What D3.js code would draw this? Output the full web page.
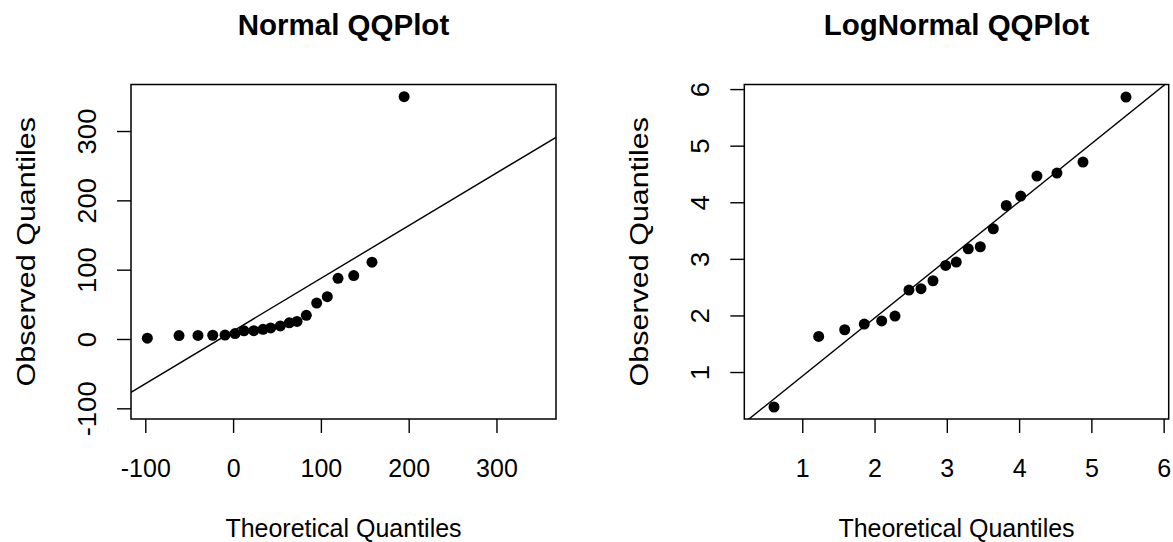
<!DOCTYPE html>
<html>
<head>
<meta charset="utf-8">
<script src="https://cdn.jsdelivr.net/npm/d3@7"></script>
<style>
  html, body { margin: 0; padding: 0; background: #fff; }
  svg { display: block; }
  text { font-family: "Liberation Sans", Arial, Helvetica, sans-serif; fill: #000; }
</style>
</head>
<body>
<svg id="chart" width="1173" height="542"></svg>
<script>
// ---- Data: normal Q-Q panel ----
const normalTheoretical = [-97.7, -61.6, -40.0, -23.2, -9.2, 2.2, 12.4, 23.5, 34.1, 42.8,
                           53.8, 64.0, 72.8, 83.4, 95.2, 107.3, 119.5, 137.4, 158.2, 194.8];
const normalObserved    = [1.2, 5.0, 5.2, 5.4, 5.6, 7.8, 11.8, 12.0, 13.9, 16.0,
                           18.8, 23.3, 25.3, 34.2, 51.8, 61.0, 87.6, 91.5, 110.8, 349.5];
const normalLine        = [11.46, 0.7598];   // intercept, slope
const normalXTicks      = [-100, 0, 100, 200, 300];
const normalYTicks      = [-100, 0, 100, 200, 300];

// ---- Data: log-normal Q-Q panel ----
const logTheoretical = [0.609, 1.227, 1.587, 1.858, 2.099, 2.283, 2.476, 2.643, 2.809, 2.984,
                        3.131, 3.297, 3.463, 3.643, 3.823, 4.022, 4.247, 4.524, 4.884, 5.479];
const logObserved    = [0.382, 1.629, 1.747, 1.848, 1.903, 1.989, 2.449, 2.472, 2.613, 2.883,
                        2.943, 3.178, 3.214, 3.532, 3.943, 4.110, 4.463, 4.516, 4.710, 5.859];
const logLine        = [-0.100, 1.027];      // intercept, slope
const logXTicks      = [1, 2, 3, 4, 5, 6];
const logYTicks      = [1, 2, 3, 4, 5, 6];

const titles = ["Normal QQPlot", "LogNormal QQPlot"];
const xLabel = "Theoretical Quantiles";
const yLabel = "Observed Quantiles";

const svg = d3.select("#chart");

const panels = [
  { title: titles[0], x: normalTheoretical, y: normalObserved, line: normalLine,
    xTicks: normalXTicks, yTicks: normalYTicks,
    xDomain: [-116.3, 367.8], yDomain: [-115.4, 367.1],
    box: { left: 131, right: 556, top: 84.5, bottom: 419 } },
  { title: titles[1], x: logTheoretical, y: logObserved, line: logLine,
    xTicks: logXTicks, yTicks: logYTicks,
    xDomain: [0.198, 6.07], yDomain: [0.170, 6.081],
    box: { left: 744.3, right: 1168.7, top: 84.5, bottom: 419 } }
];

const FONT = 25;
const TICK = 14;
const plain = d => String(d);   // ASCII hyphen for negatives

panels.forEach((p, i) => {
  const b = p.box;
  const cx = (b.left + b.right) / 2;
  const cy = (b.top + b.bottom) / 2;
  const x = d3.scaleLinear().domain(p.xDomain).range([b.left, b.right]);
  const y = d3.scaleLinear().domain(p.yDomain).range([b.bottom, b.top]);

  const g = svg.append("g").attr("class", "panel");

  const clipId = "clip" + i;
  svg.append("defs").append("clipPath").attr("id", clipId)
    .append("rect").attr("x", b.left).attr("y", b.top)
    .attr("width", b.right - b.left).attr("height", b.bottom - b.top);

  // Reference line y = a + b x, clipped to the plotting region
  const [a, s] = p.line;
  const xs = x.domain();
  g.append("line")
    .attr("clip-path", `url(#${clipId})`)
    .attr("x1", x(xs[0])).attr("y1", y(a + s * xs[0]))
    .attr("x2", x(xs[1])).attr("y2", y(a + s * xs[1]))
    .attr("stroke", "#000").attr("stroke-width", 1.4);

  // Points
  g.append("g").selectAll("circle")
    .data(p.x.map((v, k) => [v, p.y[k]]))
    .join("circle")
    .attr("cx", d => x(d[0])).attr("cy", d => y(d[1]))
    .attr("r", 5.5).attr("fill", "#000");

  // Frame
  g.append("rect")
    .attr("x", b.left).attr("y", b.top)
    .attr("width", b.right - b.left).attr("height", b.bottom - b.top)
    .attr("fill", "none").attr("stroke", "#000").attr("stroke-width", 1.5);

  // Bottom axis
  const gx = g.append("g").attr("transform", `translate(0,${b.bottom})`)
    .call(d3.axisBottom(x).tickValues(p.xTicks).tickSize(TICK).tickFormat(plain));
  gx.select(".domain").remove();
  gx.selectAll("line").attr("stroke", "#000").attr("stroke-width", 1.4);
  gx.selectAll("text").attr("y", 58).attr("dy", null)
    .style("font-size", FONT + "px").style("font-family", "'Liberation Sans', Arial, sans-serif");

  // Left axis with labels rotated parallel to the axis
  const gy = g.append("g").attr("transform", `translate(${b.left},0)`)
    .call(d3.axisLeft(y).tickValues(p.yTicks).tickSize(TICK).tickFormat(plain));
  gy.select(".domain").remove();
  gy.selectAll("line").attr("stroke", "#000").attr("stroke-width", 1.4);
  gy.selectAll("text")
    .attr("transform", "rotate(-90) scale(1.1,1)")
    .attr("x", 0).attr("y", -35).attr("dy", null)
    .attr("text-anchor", "middle")
    .style("font-size", FONT + "px").style("font-family", "'Liberation Sans', Arial, sans-serif");

  // Title and axis titles
  g.append("text").attr("x", cx).attr("y", 35)
    .attr("text-anchor", "middle")
    .style("font-size", "29.5px").style("font-weight", "bold")
    .text(p.title);

  g.append("text").attr("x", cx).attr("y", 537)
    .attr("text-anchor", "middle").style("font-size", FONT + "px")
    .text(xLabel);

  g.append("text")
    .attr("transform", `translate(${b.left - 96},${cy}) rotate(-90) scale(1.22,1)`)
    .attr("text-anchor", "middle").style("font-size", FONT + "px")
    .text(yLabel);
});
</script>
</body>
</html>
